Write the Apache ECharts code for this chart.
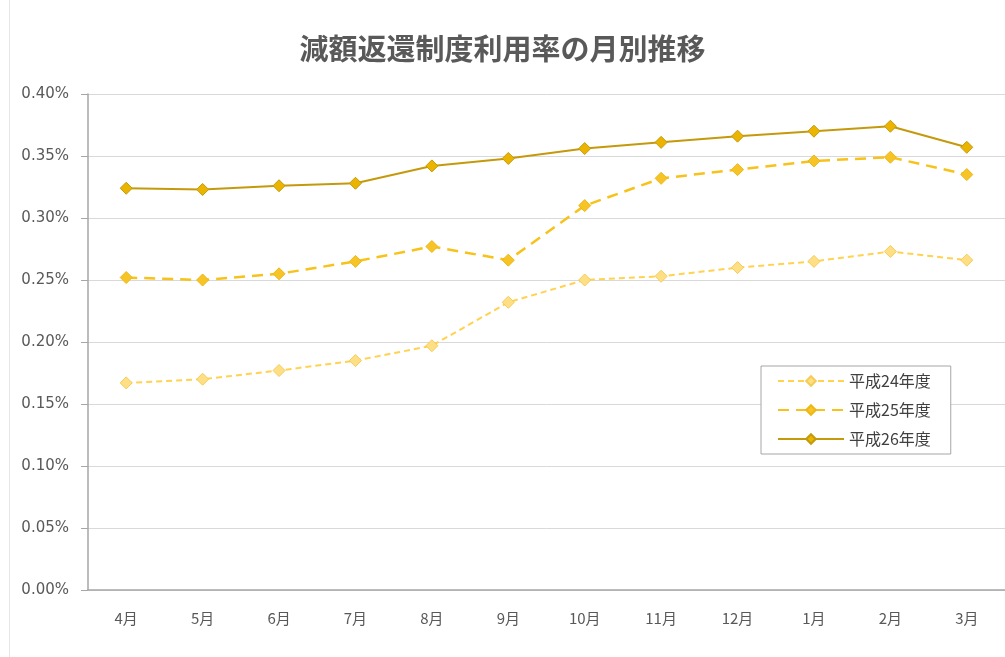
<!DOCTYPE html>
<html>
<head>
<meta charset="utf-8">
<script src="https://cdn.jsdelivr.net/npm/echarts@6/dist/echarts.min.js"></script>
<style>html,body{margin:0;padding:0;background:#fff}#c{width:1005px;height:657px}</style>
</head>
<body>
<div id="c"></div>
<script>
const titleText = '減額返還制度利用率の月別推移';
const months = ['4月','5月','6月','7月','8月','9月','10月','11月','12月','1月','2月','3月'];
const yTicks = [0, 0.05, 0.10, 0.15, 0.20, 0.25, 0.30, 0.35, 0.40];
const h24Name = '平成24年度';
const h25Name = '平成25年度';
const h26Name = '平成26年度';
const h24 = [0.167, 0.170, 0.177, 0.185, 0.197, 0.232, 0.250, 0.253, 0.260, 0.265, 0.273, 0.266];
const h25 = [0.252, 0.250, 0.255, 0.265, 0.277, 0.266, 0.310, 0.332, 0.339, 0.346, 0.349, 0.335];
const h26 = [0.324, 0.323, 0.326, 0.328, 0.342, 0.348, 0.356, 0.361, 0.366, 0.370, 0.374, 0.357];

const chart = echarts.init(document.getElementById('c'), null, {renderer: 'canvas'});
const mk = (name, data, line, fill, border, type, width) => ({
  name, type: 'line', data,
  symbol: 'diamond', symbolSize: 12,
  lineStyle: {color: line, width, type},
  itemStyle: {color: fill, borderColor: border, borderWidth: 1},
  emphasis: {disabled: true}
});
chart.setOption({
  animation: false,
  backgroundColor: '#fff',
  title: {
    text: titleText, left: 'center', top: 29,
    textStyle: {fontFamily: 'Noto Sans CJK JP', fontSize: 29, fontWeight: 'bold', color: '#595959'}
  },
  graphic: [{type: 'line', shape: {x1: 9.5, y1: 0, x2: 9.5, y2: 657}, style: {stroke: '#e6e6e6', lineWidth: 1}}],
  legend: {
    orient: 'vertical', left: 761, top: 366,
    backgroundColor: '#fff', borderColor: '#a6a6a6', borderWidth: 1,
    padding: [7, 20, 7, 16], itemGap: 13, itemWidth: 66, itemHeight: 12,
    textStyle: {fontFamily: 'Noto Sans CJK JP', fontSize: 16, color: '#404040'},
    data: [h24Name, h25Name, h26Name]
  },
  grid: {left: 88, right: 0, top: 94, bottom: 67},
  xAxis: {
    type: 'category', data: months, boundaryGap: true,
    axisLine: {lineStyle: {color: '#a6a6a6', width: 1.5}},
    axisTick: {show: false},
    axisLabel: {fontFamily: 'Noto Sans CJK JP', fontSize: 15, color: '#595959', margin: 21}
  },
  yAxis: {
    type: 'value', min: yTicks[0], max: yTicks[yTicks.length - 1], interval: 0.05,
    axisLine: {show: true, lineStyle: {color: '#a6a6a6', width: 1.5}},
    axisTick: {show: true, length: 7, lineStyle: {color: '#a6a6a6'}},
    splitLine: {lineStyle: {color: '#d9d9d9', width: 1}},
    axisLabel: {fontFamily: 'DejaVu Sans', fontSize: 15, color: '#595959', margin: 19,
      formatter: v => v.toFixed(2) + '%'}
  },
  series: [
    mk(h24Name, h24, '#FFD24F', '#FFDF85', '#F5CC55', [6, 4], 2),
    mk(h25Name, h25, '#F7C21A', '#F7C428', '#EDB716', [11, 7], 2.5),
    mk(h26Name, h26, '#C49A0C', '#EBB400', '#C49A0C', 'solid', 2)
  ]
});
</script>
</body>
</html>
